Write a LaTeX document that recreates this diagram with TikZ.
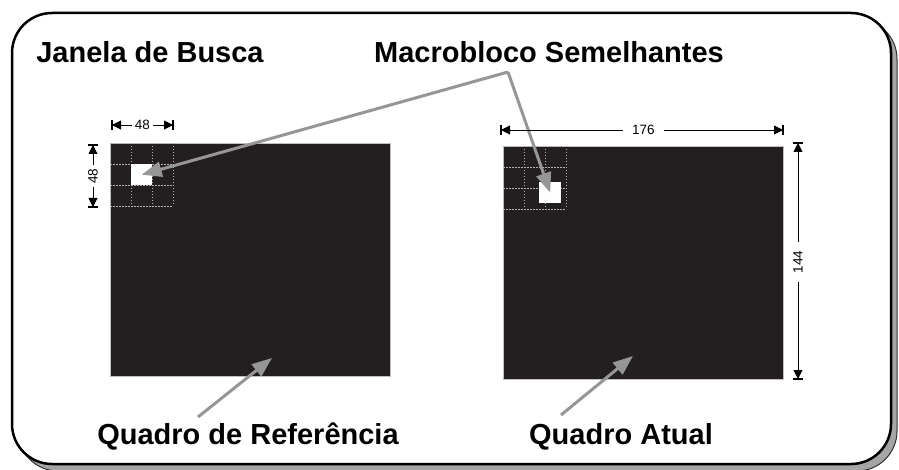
\documentclass[tikz,border=0pt]{standalone}
\usepackage{fontspec}
\setmainfont{Liberation Sans}
\usetikzlibrary{arrows.meta}
\definecolor{framek}{RGB}{35,31,32}
\definecolor{pointercol}{RGB}{150,150,150}
\definecolor{shadowc}{RGB}{165,165,165}
\begin{document}
\begin{tikzpicture}[x=1pt,y=-1pt,
  title/.style={font=\fontsize{29}{34}\selectfont\bfseries, anchor=base, inner sep=0pt},
  frame/.style={fill=framek, draw=gray!50, line width=0.6pt, minimum width=280pt, minimum height=233pt, inner sep=0pt, anchor=north west},
  gridl/.style={draw=white!70!black, dash pattern=on 1.5pt off 1.5pt, line width=0.5pt},
  hole/.style={fill=white, minimum size=21pt, inner sep=0pt, anchor=north west},
  pointer/.style={draw=pointercol, line width=3pt},
  ptip/.style={-{Triangle[length=20pt,width=15pt,fill=pointercol]}},
  dim/.style={line width=0.9pt, {Triangle[length=9pt,width=9pt]}-{Triangle[length=9pt,width=9pt]}},
  dimbar/.style={line width=1.4pt},
  dimlab/.style={fill=white, inner sep=3pt, font=\fontsize{13.5}{15}\selectfont},
  dimlabw/.style={dimlab, inner xsep=9pt}]
\useasboundingbox (0,0) rectangle (899,470);
% shadow and outer box
\draw[fill=shadowc, draw=gray!40!black, line width=1pt, rounded corners=40pt] (18,19) rectangle (897,471);
\draw[fill=white, line width=2.5pt, rounded corners=40pt] (12,13) rectangle (891,464);
% frames
\node[frame] (ref) at (110,143) {};
\node[frame] (cur) at (503,146) {};
% search windows grids
\foreach \i in {0,1,2,3} {
  \draw[gridl] (110+21*\i,143) -- (110+21*\i,206);
  \draw[gridl] (110,143+21*\i) -- (173,143+21*\i);
  \draw[gridl] (503+21*\i,146) -- (503+21*\i,209);
  \draw[gridl] (503,146+21*\i) -- (566,146+21*\i);
}
\node[hole] (refmb) at (131,164) {};
\node[hole, minimum width=22pt] (curmb) at (539,182) {};
% titles
\node[title] (jan) at (150,63) {Janela de Busca};
\node[title] (mac) at (549,63) {Macrobloco Semelhantes};
\node[title] (qref) at (248,444) {Quadro de Referência};
\node[title] (qat) at (621,444) {Quadro Atual};
% pointers
\coordinate (apex) at (508,72);
\draw[pointer, ptip] (apex) -- (refmb.center);
\draw[pointer, ptip] (apex) -- (curmb.center);
\coordinate (refsrc) at (198,417);
\coordinate (reftip) at (272,358);
\coordinate (cursrc) at (561,415);
\coordinate (curtip) at (633,356);
\draw[pointer, ptip] (refsrc) -- (reftip);
\draw[pointer, ptip] (cursrc) -- (curtip);
% dimensions
\coordinate (d1a) at (112,125); \coordinate (d1b) at (173,125);
\draw[dim] (d1a) -- node[dimlab]{48} (d1b);
\draw[dimbar] (112,120) -- (112,130); \draw[dimbar] (173,120) -- (173,130);
\coordinate (d2a) at (93,145); \coordinate (d2b) at (93,207);
\draw[dim] (d2a) -- node[dimlab, rotate=90]{48} (d2b);
\draw[dimbar] (88,145) -- (98,145); \draw[dimbar] (88,207) -- (98,207);
\coordinate (d3a) at (501,130); \coordinate (d3b) at (783,130);
\draw[dim] (d3a) -- node[dimlabw, pos=0.505]{176} (d3b);
\draw[dimbar] (501,125) -- (501,135); \draw[dimbar] (783,125) -- (783,135);
\coordinate (d4a) at (798,143); \coordinate (d4b) at (798,379);
\draw[dim] (d4a) -- node[dimlabw, rotate=90, pos=0.505]{144} (d4b);
\draw[dimbar] (793,143) -- (803,143); \draw[dimbar] (793,379) -- (803,379);
\end{tikzpicture}
\end{document}
